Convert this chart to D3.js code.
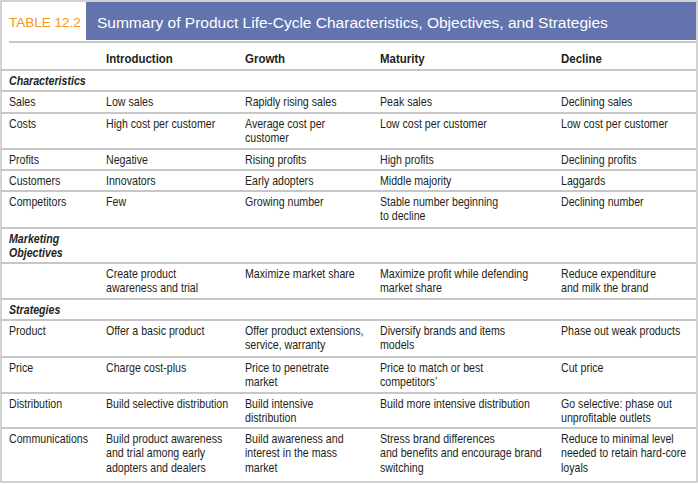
<!DOCTYPE html>
<html><head><meta charset="utf-8">
<script src="https://cdn.jsdelivr.net/npm/d3@7"></script>
<style>body{margin:0;background:#fff}svg{display:block}text{font-family:"Liberation Sans",sans-serif;font-size:12.5px;fill:#231f20}</style>
</head><body><svg id="c" width="698" height="484"></svg>
<script>
const tableLabel = "TABLE 12.2";
const title = "Summary of Product Life-Cycle Characteristics, Objectives, and Strategies";
const stages = ["Introduction", "Growth", "Maturity", "Decline"];
const rows = [
  {type:"header"},
  {type:"section", label:["Characteristics"]},
  {type:"row", label:["Sales"], cells:[["Low sales"],["Rapidly rising sales"],["Peak sales"],["Declining sales"]]},
  {type:"row", label:["Costs"], cells:[["High cost per customer"],["Average cost per","customer"],["Low cost per customer"],["Low cost per customer"]]},
  {type:"row", label:["Profits"], cells:[["Negative"],["Rising profits"],["High profits"],["Declining profits"]]},
  {type:"row", label:["Customers"], cells:[["Innovators"],["Early adopters"],["Middle majority"],["Laggards"]]},
  {type:"row", label:["Competitors"], cells:[["Few"],["Growing number"],["Stable number beginning","to decline"],["Declining number"]]},
  {type:"section", label:["Marketing","Objectives"]},
  {type:"row", label:[""], cells:[["Create product","awareness and trial"],["Maximize market share"],["Maximize profit while defending","market share"],["Reduce expenditure","and milk the brand"]]},
  {type:"section", label:["Strategies"]},
  {type:"row", label:["Product"], cells:[["Offer a basic product"],["Offer product extensions,","service, warranty"],["Diversify brands and items","models"],["Phase out weak products"]]},
  {type:"row", label:["Price"], cells:[["Charge cost-plus"],["Price to penetrate","market"],["Price to match or best","competitors’"],["Cut price"]]},
  {type:"row", label:["Distribution"], cells:[["Build selective distribution"],["Build intensive","distribution"],["Build more intensive distribution"],["Go selective: phase out","unprofitable outlets"]]},
  {type:"row", label:["Communications"], cells:[["Build product awareness","and trial among early","adopters and dealers"],["Build awareness and","interest in the mass","market"],["Stress brand differences","and benefits and encourage brand","switching"],["Reduce to minimal level","needed to retain hard-core","loyals"]]}
];
const rowTops = [43, 70, 91, 113, 149, 170, 191, 228, 263, 299, 320, 357, 393, 428, 482];

const svg = d3.select("#c");
const x = d3.scaleOrdinal().domain(["label", ...stages]).range([9, 106, 245, 380, 561]);
const lineH = 14.5;
const SX = 0.85;

function cellText(xx, y0, lines){
  const g = svg.append("g").attr("transform",`translate(${xx},0) scale(${SX},1)`);
  const t = g.append("text").attr("x",0).attr("y",y0);
  lines.forEach((l,k)=>t.append("tspan").attr("x",0).attr("y",y0+k*lineH).text(l));
  return t;
}

svg.append("rect").attr("x",1).attr("y",1).attr("width",696).attr("height",481)
  .attr("fill","none").attr("stroke","#b5b5b5").attr("stroke-width",1.2);
svg.append("rect").attr("x",86).attr("y",2).attr("width",610).attr("height",38).attr("fill","#6273ad");
svg.append("text").attr("x",9).attr("y",27).text(tableLabel)
  .style("fill","#f7941d").style("font-size","13.5px");
svg.append("text").attr("x",97).attr("y",28).text(title)
  .style("fill","#fff").style("font-size","15.5px");
svg.append("line").attr("x1",9).attr("x2",696).attr("y1",42).attr("y2",42).attr("stroke","#b5b5b5").attr("stroke-width",1.5);

rows.forEach((r,i)=>{
  const top = rowTops[i], bot = rowTops[i+1];
  if (i < rows.length-1) svg.append("line").attr("x1",1).attr("x2",696).attr("y1",bot).attr("y2",bot)
    .attr("stroke","#b5b5b5").attr("stroke-width",1.4);
  const y0 = top + 15;
  if (r.type==="header") {
    stages.forEach(s=>cellText(x(s), bot-7, [s]).style("font-weight","bold").style("font-size","13.5px"));
    return;
  }
  const lbl = cellText(x("label"), y0, r.label);
  if (r.type==="section") { lbl.style("font-weight","bold").style("font-style","italic"); return; }
  r.cells.forEach((c,j)=>cellText(x(stages[j]), y0, c));
});
</script></body></html>
